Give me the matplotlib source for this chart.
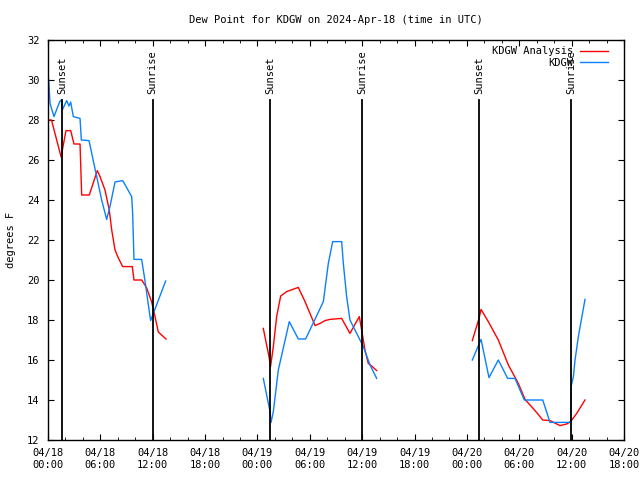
import numpy as np
import matplotlib
matplotlib.use("Agg")
import matplotlib.pyplot as plt

# hours since 2024-04-18 00:00 UTC, NaN = gap
analysis_hours = [0.0, 0.4, 1.5, 2.06, 2.6, 2.98, 3.67, 3.86, 4.73, 5.65, 5.96, 6.53, 7.02, 7.3,
                  7.68, 8.06, 8.56, 9.66, 9.85, 10.74, 11.31, 11.88, 12.26, 12.64, 13.52, np.nan,
                  24.67, 25.32, 25.5, 25.82, 26.2, 26.66, 27.35, 28.68, 29.45, 30.6, 31.17, 31.74,
                  32.3, 33.65, 34.6, 35.67, 35.94, 36.32, 36.7, 37.09, 37.66, np.nan,
                  48.62, 49.39, 49.62, 50.45, 51.6, 52.75, 53.89, 54.66, 55.23, 56.0, 56.69,
                  57.52, 58.67, 59.43, 59.89, 60.58, 61.53]
analysis_dewp = [28.0, 28.0, 26.15, 27.47, 27.47, 26.8, 26.8, 24.25, 24.25, 25.47, 25.17, 24.5,
                 23.5, 22.5, 21.5, 21.1, 20.67, 20.67, 20.0, 20.0, 19.6, 18.9, 18.17, 17.4, 17.05,
                 np.nan,
                 17.58, 16.17, 15.67, 16.67, 18.17, 19.2, 19.42, 19.63, 18.92, 17.72, 17.83, 17.97,
                 18.03, 18.08, 17.33, 18.17, 17.5, 16.5, 15.83, 15.7, 15.47, np.nan,
                 16.97, 18.08, 18.53, 17.92, 17.0, 15.75, 14.83, 14.03, 13.75, 13.37, 13.0,
                 12.97, 12.72, 12.8, 12.92, 13.33, 14.0]

obs_hours = [0.08, 0.23, 0.69, 1.34, 1.53, 1.64, 2.14, 2.4, 2.6, 2.9, 3.67, 3.82, 4.7, 5.58,
             6.15, 6.72, 7.1, 7.68, 8.56, 9.59, 9.7, 9.85, 10.73, 11.1, 11.5, 11.76, 12.07, 13.48,
             np.nan,
             24.67, 25.44, 25.55, 25.82, 26.39, 27.65, 28.68, 29.52, 31.55, 32.12, 32.62, 33.65,
             33.84, 34.22, 34.6, 35.37, 36.13, 36.9, 37.66, np.nan,
             48.62, 49.3, 49.62, 50.53, 51.6, 52.67, 53.51, 54.58, 55.8, 56.69, 57.52, 59.62,
             59.9, 59.95, 60.2, 60.39, 60.77, 61.53]
obs_dewp = [30.03, 28.83, 28.17, 28.92, 29.0, 28.5, 28.97, 28.7, 28.9, 28.17, 28.08, 27.0,
            26.97, 25.17, 24.0, 23.03, 23.67, 24.9, 24.97, 24.17, 23.33, 21.03, 21.03, 20.0,
            18.75, 17.97, 18.33, 19.95, np.nan,
            15.08, 13.42, 12.87, 13.42, 15.5, 17.92, 17.05, 17.05, 18.92, 20.83, 21.92, 21.92,
            20.83, 19.17, 18.0, 17.33, 16.67, 15.75, 15.08, np.nan,
            16.0, 16.7, 17.03, 15.12, 16.0, 15.08, 15.08, 14.0, 14.0, 14.0, 12.88, 12.88,
            12.9, 14.7, 15.17, 16.0, 17.17, 19.03]

sun_hours = [1.6, 12.0, 25.45, 36.0, 49.4, 59.95]
sun_labels = ["Sunset", "Sunrise", "Sunset", "Sunrise", "Sunset", "Sunrise"]

tick_hours = list(range(0, 67, 6))
tick_labels = ["04/18\n00:00", "04/18\n06:00", "04/18\n12:00", "04/18\n18:00",
               "04/19\n00:00", "04/19\n06:00", "04/19\n12:00", "04/19\n18:00",
               "04/20\n00:00", "04/20\n06:00", "04/20\n12:00", "04/20\n18:00"]

plt.rcParams['font.family'] = ['DejaVu Sans Mono']
plt.rcParams['font.size'] = 7.5

fig = plt.figure(figsize=(6.4, 4.8), dpi=100)
ax = fig.add_axes([48 / 640, 40 / 480, 576 / 640, 400 / 480])

ax.plot(analysis_hours, analysis_dewp, color='#ff0000', lw=1.0, label='KDGW Analysis')
ax.plot(obs_hours, obs_dewp, color='#0a80ff', lw=1.0, label='KDGW')

for h, lab in zip(sun_hours, sun_labels):
    ax.plot([h, h], [12, 29], color='black', lw=1.3)
    ax.text(h, 29.3, lab, rotation=90, ha='center', va='bottom', fontsize=7.5)

ax.set_xlim(0, 66)
ax.set_ylim(12, 32)
ax.set_xticks(tick_hours)
ax.set_xticklabels(tick_labels)
ax.set_xticks(range(0, 67, 2), minor=True)
ax.set_yticks(range(12, 33, 2))
ax.tick_params(which='both', direction='in', top=True, right=True)
ax.tick_params(which='major', length=4, pad=6)
ax.tick_params(which='minor', length=2)
for s in ax.spines.values():
    s.set_linewidth(1.0)

ax.set_title("Dew Point for KDGW on 2024-Apr-18 (time in UTC)", fontsize=7.5, pad=12)
ax.set_ylabel("degrees F", labelpad=8)

ax.legend(loc='upper right', bbox_to_anchor=(1 - 10 / 576, 1), frameon=False,
          markerfirst=False, handlelength=2.7, handletextpad=0.6,
          borderaxespad=0.2, labelspacing=0.15, fontsize=7.5)

fig.savefig("out.png", dpi=100)
